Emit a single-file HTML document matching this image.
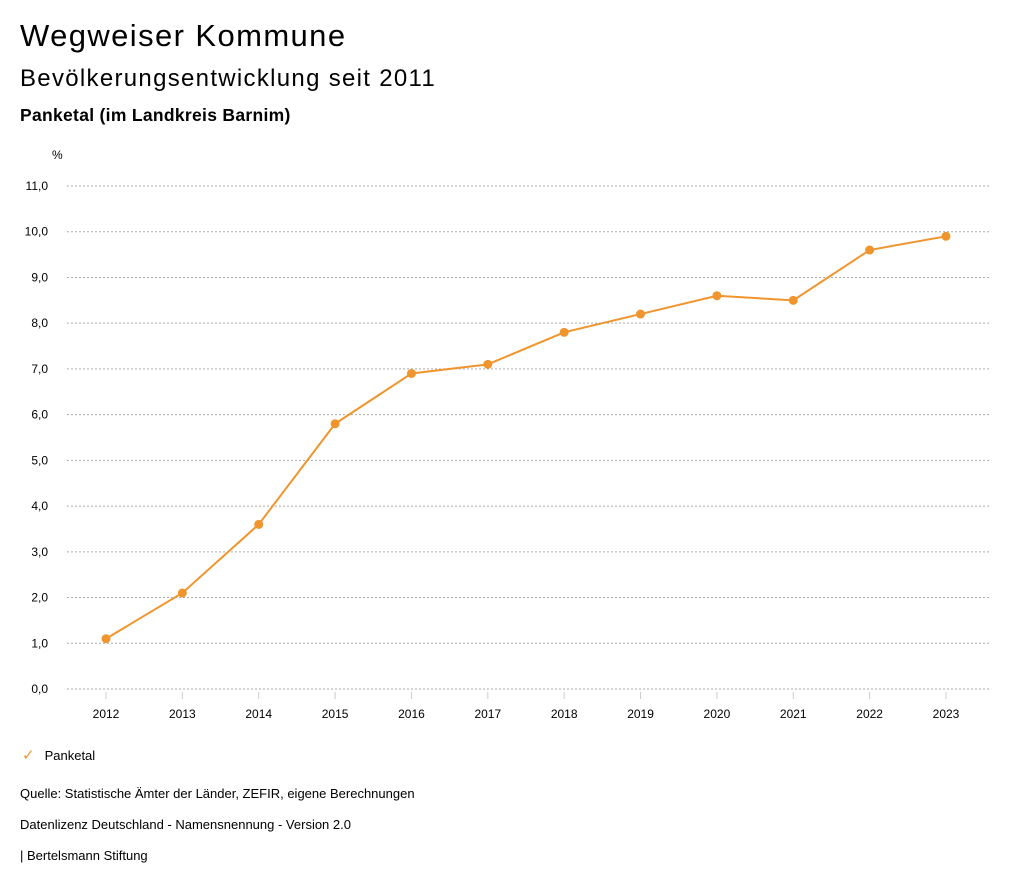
<!DOCTYPE html>
<html><head><meta charset="utf-8"><style>
body{margin:0;background:#fff;font-family:"Liberation Sans","DejaVu Sans",sans-serif;color:#000}
.t{position:absolute;white-space:nowrap}
</style></head><body>
<div style="position:relative;width:1024px;height:888px;overflow:hidden">
<div class="t" style="left:20px;top:18px;font-size:31px;letter-spacing:1.4px">Wegweiser Kommune</div>
<div class="t" style="left:20px;top:65px;font-size:24px;letter-spacing:1.3px">Bevölkerungsentwicklung seit 2011</div>
<div class="t" style="left:20px;top:105px;font-size:17.5px;font-weight:bold;letter-spacing:0.3px">Panketal (im Landkreis Barnim)</div>
<svg id="chart" width="1024" height="888" style="position:absolute;left:0;top:0" font-family="Liberation Sans, DejaVu Sans, sans-serif"></svg>
<div class="t" style="left:22px;top:746px;font-size:13px"><span style="color:#f0952e;font-size:15px;margin-right:10px">✓</span>Panketal</div>
<div class="t" style="left:20px;top:786px;font-size:13px">Quelle: Statistische Ämter der Länder, ZEFIR, eigene Berechnungen</div>
<div class="t" style="left:20px;top:817px;font-size:13px">Datenlizenz Deutschland - Namensnennung - Version 2.0</div>
<div class="t" style="left:20px;top:848px;font-size:13px">| Bertelsmann Stiftung</div>
</div>
<script>
const years=[2012,2013,2014,2015,2016,2017,2018,2019,2020,2021,2022,2023];
const values=[1.1,2.1,3.6,5.8,6.9,7.1,7.8,8.2,8.6,8.5,9.6,9.9];
const yTicks=[0,1,2,3,4,5,6,7,8,9,10,11];
const svg=document.getElementById('chart');
const NS='http://www.w3.org/2000/svg';
const x=i=>106+i*(946-106)/(years.length-1);
const y=v=>689-v*(689-186)/11;
function mk(t,a){const e=document.createElementNS(NS,t);for(const k in a)e.setAttribute(k,a[k]);svg.appendChild(e);return e;}
let u=mk('text',{x:52,y:159,'font-size':12});u.textContent='%';


yTicks.forEach(v=>{
 const g=mk('line',{x1:67,x2:990,y1:y(v),y2:y(v),stroke:'#aaa','stroke-dasharray':'2,2'});
 
 
 const t=mk('text',{x:48,y:y(v)+4,'font-size':12,'text-anchor':'end'});
 t.textContent=v.toFixed(1).replace('.',',');
 
 
});
years.forEach((yr,i)=>{
 const l=mk('line',{x1:x(i),x2:x(i),y1:692,y2:699,stroke:'#ccc'});
 
 
 const t=mk('text',{x:x(i),y:718,'font-size':12,'text-anchor':'middle'});
 t.textContent=yr;
 
 
});
const p=mk('polyline',{points:values.map((v,i)=>x(i)+','+y(v)).join(' '),fill:'none',stroke:'#f0952e','stroke-width':2});


values.forEach((v,i)=>{
 const c=mk('circle',{cx:x(i),cy:y(v),r:4.5,fill:'#f0952e'});
 
 
});
</script>
</body></html>
